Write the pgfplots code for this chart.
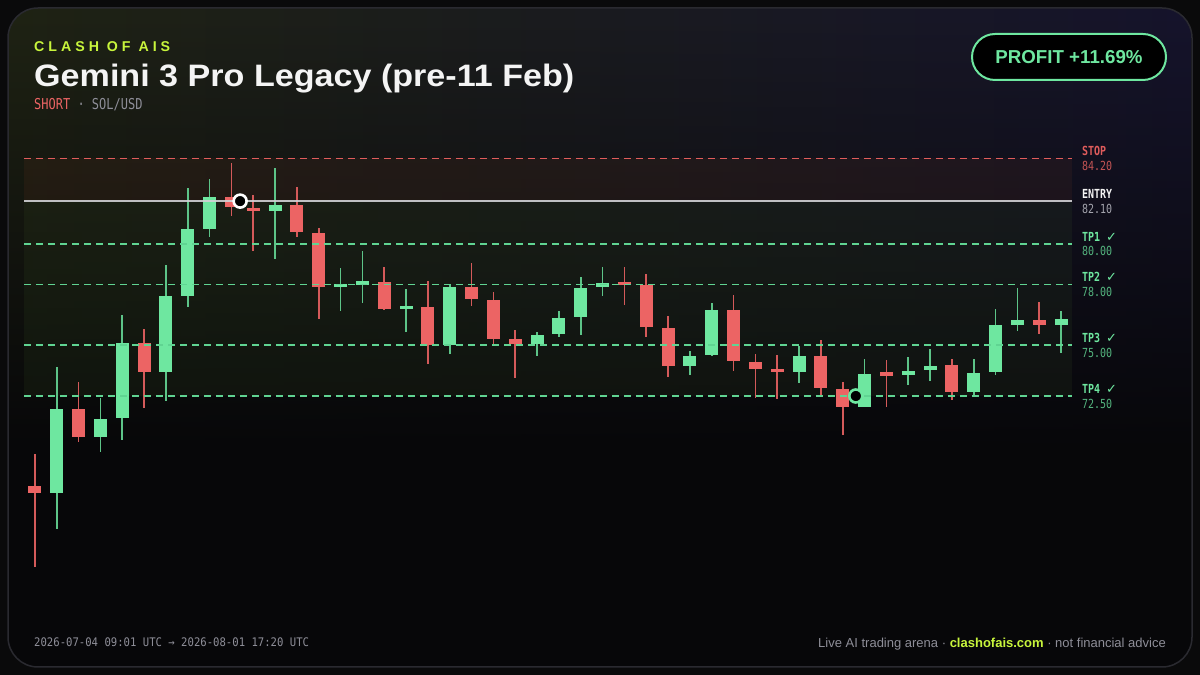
\documentclass[border=0pt]{standalone}
\usepackage{pgfplots}
\pgfplotsset{compat=1.18}
\usepackage{pgfplotstable}
\usepackage{fontspec}
\setmainfont{Liberation Sans}
\newfontfamily\titlef[FakeStretch=1.1]{Liberation Sans}
\newfontfamily\monoc[FakeStretch=0.8]{DejaVu Sans Mono}
\newfontfamily\monod[FakeStretch=0.9]{DejaVu Sans Mono}
\newfontfamily\trackf[LetterSpace=28]{Liberation Sans}
\newfontfamily\symf{DejaVu Sans}
\usetikzlibrary{fadings}

\definecolor{bgout}{RGB}{10,10,11}
\definecolor{bgbase}{RGB}{7,7,9}
\definecolor{olivec}{RGB}{31,35,20}
\definecolor{navyc}{RGB}{22,20,44}
\definecolor{cardborder}{RGB}{42,42,48}
\definecolor{cgreen}{RGB}{110,231,160}
\definecolor{cred}{RGB}{236,100,100}
\definecolor{lvgreen}{RGB}{96,212,146}
\definecolor{lvred}{RGB}{224,92,92}
\definecolor{entryc}{RGB}{210,210,214}
\definecolor{limec}{RGB}{200,245,60}
\definecolor{titlec}{RGB}{244,244,244}
\definecolor{grayt}{RGB}{142,142,152}
\definecolor{greenval}{RGB}{84,180,126}
\definecolor{redval}{RGB}{196,84,84}
\definecolor{zonered}{RGB}{150,70,40}
\definecolor{zonegreen}{RGB}{110,160,60}

\tikzfading[name=fadesouth, top color=transparent!0, bottom color=transparent!100]

\pgfplotstableread{
i O H L C
1 67.74 73.91 65.93 71.87
3 70.50 72.39 69.73 71.35
4 71.40 76.48 70.35 75.13
6 73.67 78.94 72.25 77.44
7 77.44 82.76 76.90 80.71
8 80.71 83.19 80.33 82.30
11 81.60 83.72 79.23 81.89
14 77.86 78.81 76.70 78.00
15 78.03 79.66 77.07 78.10
17 76.80 77.76 75.64 76.90
19 75.01 77.95 74.55 77.86
23 75.05 75.65 74.49 75.49
24 75.54 76.67 75.39 76.36
25 76.39 78.36 75.49 77.84
26 77.86 78.87 77.43 78.08
30 73.96 74.72 73.55 74.49
31 74.54 77.07 74.47 76.72
35 73.70 74.98 73.13 74.49
38 71.96 74.32 71.94 73.60
40 73.55 74.44 73.03 73.72
41 73.77 74.82 73.25 73.99
43 72.71 74.32 72.44 73.63
44 73.67 76.79 73.55 75.98
45 76.01 77.82 75.72 76.24
47 75.98 76.67 74.62 76.28
}\greendata

\pgfplotstableread{
i O H L C
0 68.08 69.64 64.06 67.74
2 71.87 73.18 70.25 70.50
5 75.13 75.79 71.89 73.67
9 82.30 83.96 81.35 81.80
10 81.76 82.40 79.66 81.60
12 81.89 82.78 80.32 80.58
13 80.55 80.76 76.28 77.86
16 78.10 78.86 76.72 76.79
18 76.90 78.18 74.09 75.01
20 77.86 79.04 76.95 77.29
21 77.24 77.62 75.01 75.31
22 75.31 75.75 73.37 75.05
27 78.10 78.84 77.00 78.00
28 77.95 78.51 75.42 75.89
29 75.85 76.44 73.44 73.96
32 76.74 77.48 73.75 74.21
33 74.18 74.57 72.39 73.83
34 73.80 74.51 72.34 73.70
36 74.49 75.26 72.55 72.88
37 72.83 73.19 70.58 71.96
39 73.63 74.27 71.97 73.55
42 74.01 74.32 72.32 72.71
46 76.23 77.15 75.57 75.98
}\reddata

\begin{document}
\begin{tikzpicture}[x=1pt,y=1pt]
\useasboundingbox (0,0) rectangle (1200,675);
\fill[bgout] (0,0) rectangle (1200,675);
\begin{scope}
\clip[rounded corners=30pt] (8,8) rectangle (1192,667);
\fill[bgbase] (8,8) rectangle (1192,667);
\shade[left color=olivec, right color=navyc, path fading=fadesouth] (8,220) rectangle (1192,667);
\end{scope}
\draw[cardborder, line width=1.5pt, rounded corners=30pt] (8,8) rectangle (1192,667);

% header
\node[anchor=base west, inner sep=0pt, text=limec] at (34,623) {\trackf\bfseries\fontsize{14.2}{16}\selectfont CLASH OF AIS};
\node[anchor=base west, inner sep=0pt, text=titlec] at (34,588) {\titlef\bfseries\fontsize{31}{36}\selectfont Gemini 3 Pro Legacy (pre-11 Feb)};
\node[anchor=base west, inner sep=0pt] at (34,565.7) {\monoc\fontsize{15}{17}\selectfont\textcolor{cred}{SHORT} \textcolor{grayt}{· SOL/USD}};

% badge
\draw[cgreen, line width=2pt, fill=black, rounded corners=23pt] (972,595) rectangle (1166,641);
\node[text=cgreen, inner sep=0pt] at (1069,618) {\bfseries\fontsize{18.7}{20}\selectfont PROFIT +11.69\%};

% footer
\node[anchor=base west, inner sep=0pt, text=grayt] at (34,28.3) {\monod\fontsize{11.8}{14}\selectfont 2026-07-04 09:01 UTC → 2026-08-01 17:20 UTC};
\node[anchor=base east, inner sep=0pt, text=grayt] at (1166,27.7) {\fontsize{13}{15}\selectfont Live AI trading arena · \textcolor{limec}{\bfseries clashofais.com} · not financial advice};

\begin{axis}[at={(24pt,85pt)}, anchor=south west, scale only axis,
  width=1048pt, height=450pt, xmin=-0.5, xmax=47.5, ymin=62.944, ymax=85.111,
  hide axis, clip=false]
% zones
\fill[zonered, opacity=0.10] (axis cs:-0.5,84.2) rectangle (axis cs:47.5,82.1);
\fill[zonegreen, opacity=0.07] (axis cs:-0.5,82.1) rectangle (axis cs:47.5,72.5);
% wicks
\addplot[draw=none, mark=none, forget plot, error bars/.cd, y dir=both, y explicit, error mark=none,
  error bar style={draw=cgreen!85!black, line width=1.6pt}]
  table[x=i, y expr={(\thisrow{H}+\thisrow{L})/2}, y error expr={(\thisrow{H}-\thisrow{L})/2}] {\greendata};
\addplot[draw=none, mark=none, forget plot, error bars/.cd, y dir=both, y explicit, error mark=none,
  error bar style={draw=cred!90!black, line width=1.6pt}]
  table[x=i, y expr={(\thisrow{H}+\thisrow{L})/2}, y error expr={(\thisrow{H}-\thisrow{L})/2}] {\reddata};
% bodies
\addplot[draw=none, mark=none, forget plot, error bars/.cd, y dir=both, y explicit, error mark=none,
  error bar style={draw=cgreen, line width=13pt}]
  table[x=i, y expr={(\thisrow{O}+\thisrow{C})/2}, y error expr={max(abs(\thisrow{C}-\thisrow{O})/2,0.08)}] {\greendata};
\addplot[draw=none, mark=none, forget plot, error bars/.cd, y dir=both, y explicit, error mark=none,
  error bar style={draw=cred, line width=13pt}]
  table[x=i, y expr={(\thisrow{O}+\thisrow{C})/2}, y error expr={max(abs(\thisrow{C}-\thisrow{O})/2,0.08)}] {\reddata};
% level lines
\draw[lvred, line width=1.6pt, dash pattern=on 7pt off 5pt] (axis cs:-0.5,84.2) -- (axis cs:47.5,84.2);
\draw[entryc, line width=1.8pt, opacity=0.9] (axis cs:-0.5,82.1) -- (axis cs:47.5,82.1);
\draw[lvgreen, line width=1.6pt, dash pattern=on 7pt off 5pt] (axis cs:-0.5,80) -- (axis cs:47.5,80);
\draw[lvgreen, line width=1.6pt, dash pattern=on 7pt off 5pt] (axis cs:-0.5,78) -- (axis cs:47.5,78);
\draw[lvgreen, line width=1.6pt, dash pattern=on 7pt off 5pt] (axis cs:-0.5,75) -- (axis cs:47.5,75);
\draw[lvgreen, line width=1.6pt, dash pattern=on 7pt off 5pt] (axis cs:-0.5,72.5) -- (axis cs:47.5,72.5);
% entry / exit markers
\addplot[only marks, mark=*, mark size=6.5pt, mark options={fill=black, draw=white, line width=2.6pt}] coordinates {(9.4,82.1)};
\addplot[only marks, mark=*, mark size=6.5pt, mark options={fill=black, draw=cgreen, line width=2.6pt}] coordinates {(37.6,72.5)};
% labels
\node[anchor=base west, inner sep=0pt, xshift=10pt, yshift=2.5pt, text=lvred] at (axis cs:47.5,84.2) {\monoc\bfseries\fontsize{12.5}{14}\selectfont STOP};
\node[anchor=base west, inner sep=0pt, xshift=10pt, yshift=-12.2pt, text=redval] at (axis cs:47.5,84.2) {\monoc\fontsize{12.5}{14}\selectfont 84.20};
\node[anchor=base west, inner sep=0pt, xshift=10pt, yshift=2.5pt, text=titlec] at (axis cs:47.5,82.1) {\monoc\bfseries\fontsize{12.5}{14}\selectfont ENTRY};
\node[anchor=base west, inner sep=0pt, xshift=10pt, yshift=-12.2pt, text=grayt!80!white] at (axis cs:47.5,82.1) {\monoc\fontsize{12.5}{14}\selectfont 82.10};
\node[anchor=base west, inner sep=0pt, xshift=10pt, yshift=2.5pt, text=cgreen] at (axis cs:47.5,80) {\monoc\bfseries\fontsize{12.5}{14}\selectfont TP1 {\symf\mdseries\fontsize{13}{14}\selectfont ✓}};
\node[anchor=base west, inner sep=0pt, xshift=10pt, yshift=-12.2pt, text=greenval] at (axis cs:47.5,80) {\monoc\fontsize{12.5}{14}\selectfont 80.00};
\node[anchor=base west, inner sep=0pt, xshift=10pt, yshift=2.5pt, text=cgreen] at (axis cs:47.5,78) {\monoc\bfseries\fontsize{12.5}{14}\selectfont TP2 {\symf\mdseries\fontsize{13}{14}\selectfont ✓}};
\node[anchor=base west, inner sep=0pt, xshift=10pt, yshift=-12.2pt, text=greenval] at (axis cs:47.5,78) {\monoc\fontsize{12.5}{14}\selectfont 78.00};
\node[anchor=base west, inner sep=0pt, xshift=10pt, yshift=2.5pt, text=cgreen] at (axis cs:47.5,75) {\monoc\bfseries\fontsize{12.5}{14}\selectfont TP3 {\symf\mdseries\fontsize{13}{14}\selectfont ✓}};
\node[anchor=base west, inner sep=0pt, xshift=10pt, yshift=-12.2pt, text=greenval] at (axis cs:47.5,75) {\monoc\fontsize{12.5}{14}\selectfont 75.00};
\node[anchor=base west, inner sep=0pt, xshift=10pt, yshift=2.5pt, text=cgreen] at (axis cs:47.5,72.5) {\monoc\bfseries\fontsize{12.5}{14}\selectfont TP4 {\symf\mdseries\fontsize{13}{14}\selectfont ✓}};
\node[anchor=base west, inner sep=0pt, xshift=10pt, yshift=-12.2pt, text=greenval] at (axis cs:47.5,72.5) {\monoc\fontsize{12.5}{14}\selectfont 72.50};
\end{axis}
\end{tikzpicture}
\end{document}
